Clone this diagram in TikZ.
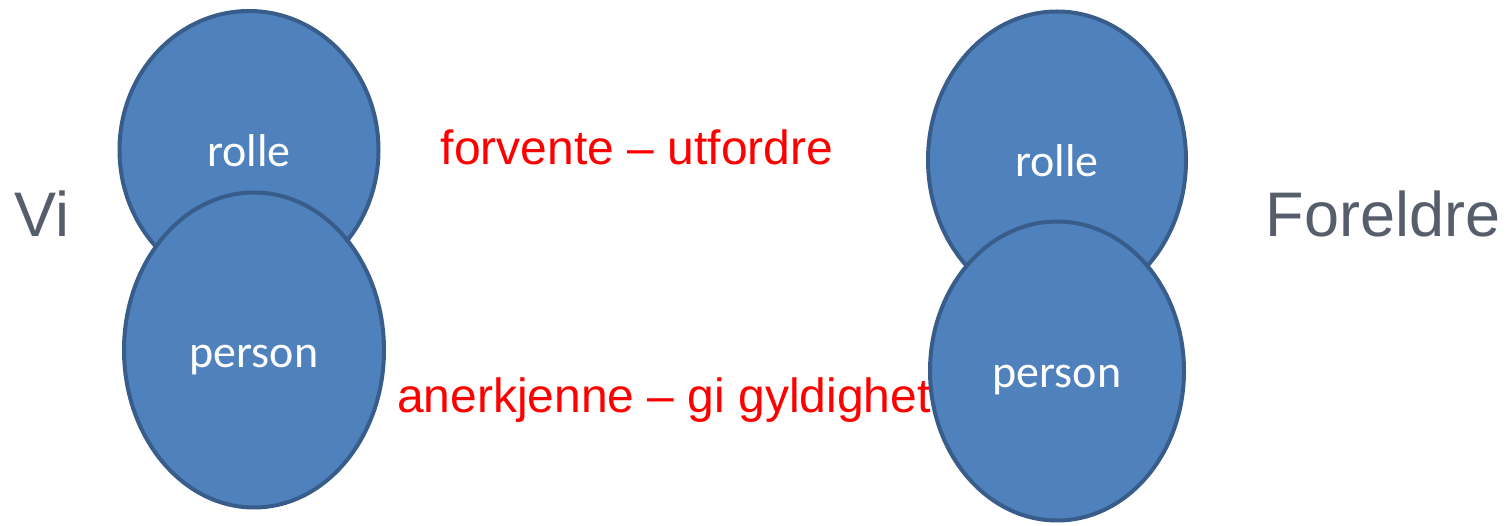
\documentclass[tikz,border=0pt]{standalone}
\usepackage{fontspec}
\setmainfont{Liberation Sans}
\newfontfamily\calibri{Carlito}
\usepackage{tikz}
\usetikzlibrary{shapes.geometric}
\definecolor{fillblue}{HTML}{4F81BD}
\definecolor{lineblue}{HTML}{385D8A}
\definecolor{sidegray}{HTML}{575E6B}
\tikzstyle{ball} = [ellipse, inner sep=0pt, draw=lineblue, line width=4pt,
fill=fillblue, text=white, text height=34pt, text depth=0pt,
font=\calibri\fontsize{46}{46}\selectfont]
\tikzstyle{side} = [anchor=base, text=sidegray, font=\fontsize{63}{63}\selectfont]
\tikzstyle{relation} = [anchor=base, text=red, font=\fontsize{48}{48}\selectfont]

\begin{document}
\begin{tikzpicture}[x=1pt, y=-1pt]
\useasboundingbox (0,0) rectangle (1507,526);

\node(vi)[side] at (42,237){Vi};
\node(foreldre)[side] at (1383,237){Foreldre};

\node(forvente)[relation] at (637,165){forvente -- utfordre};
\node(anerkjenne)[relation] at (664,413){anerkjenne -- gi gyldighet};

\node(rolleVi)[ball, minimum width=259pt, minimum height=278pt] at (249,150){rolle};
\node(personVi)[ball, minimum width=260pt, minimum height=315pt] at (254,350){person};

\node(rolleForeldre)[ball, minimum width=258pt, minimum height=297pt] at (1057,160){rolle};
\node(personForeldre)[ball, minimum width=254pt, minimum height=299pt] at (1057,371){person};

\end{tikzpicture}
\end{document}
